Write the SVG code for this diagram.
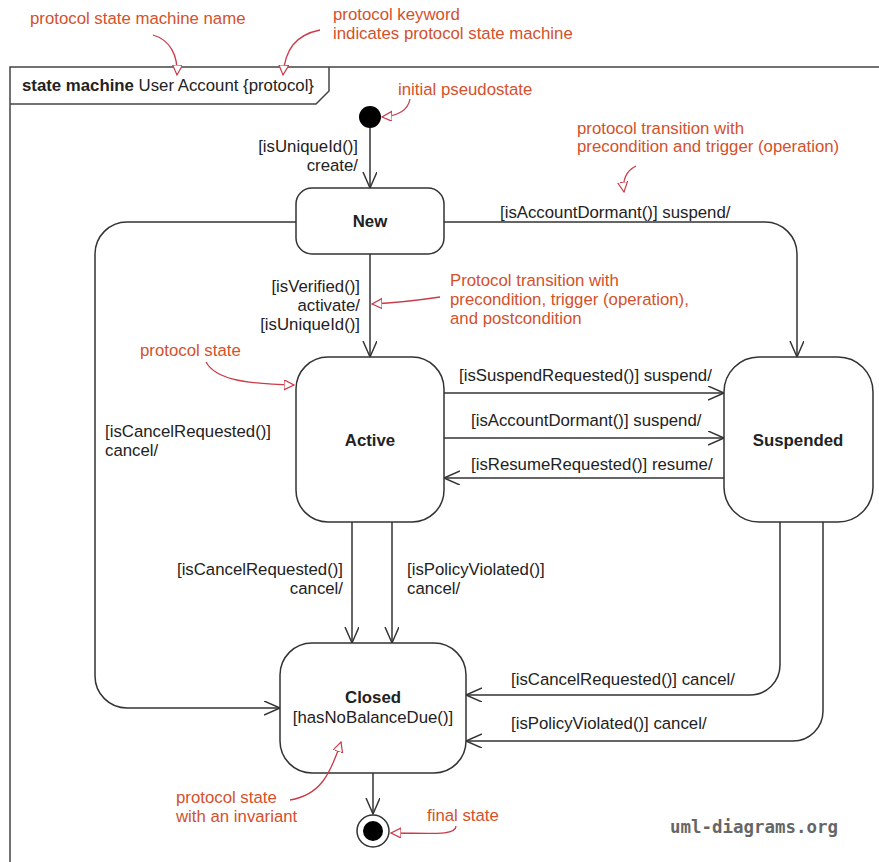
<svg xmlns="http://www.w3.org/2000/svg" width="879" height="862" viewBox="0 0 879 862">
<defs>
<style>
.t{font-family:"Liberation Sans",Arial,sans-serif;font-size:16.8px;fill:#222}
.b{font-weight:bold}
.e{text-anchor:end}
.m{text-anchor:middle}
.a{font-family:"Liberation Sans",Arial,sans-serif;font-size:16.8px;fill:#d4512b}
.st{fill:#fff;stroke:#333;stroke-width:1.5}
.c{fill:none;stroke:#333;stroke-width:1.5}
.r{fill:none;stroke:#cc3a48;stroke-width:1.3}
</style>
<marker id="v" markerUnits="userSpaceOnUse" markerWidth="18" markerHeight="16" refX="16" refY="7" orient="auto">
<path d="M0,0 L16,7 L0,14" fill="none" stroke="#333" stroke-width="1.5"/>
</marker>
<marker id="rt" markerUnits="userSpaceOnUse" markerWidth="12" markerHeight="12" refX="10" refY="5" orient="auto">
<path d="M0,0 L10,5 L0,10 z" fill="#fff" stroke="#cc3a48" stroke-width="1.2"/>
</marker>
</defs>
<rect width="879" height="862" fill="#fff"/>
<g id="frame">
<rect x="10" y="67" width="900" height="900" fill="none" stroke="#444" stroke-width="1.5"/>
<path d="M10,104 H316 L329,91 V67" fill="none" stroke="#444" stroke-width="1.5"/>
<text class="t" x="22" y="91"><tspan class="b">state machine</tspan> User Account {protocol}</text>
</g>
<g id="connectors">
<path class="c" d="M370,128 V188" marker-end="url(#v)"/>
<path class="c" d="M370,254 V357" marker-end="url(#v)"/>
<path class="c" d="M444,222 H765 A32,32 0 0 1 797,254 V357" marker-end="url(#v)"/>
<path class="c" d="M296,222 H127 A32,32 0 0 0 95,254 V676 A32,32 0 0 0 127,708 H280" marker-end="url(#v)"/>
<path class="c" d="M444,393 H724" marker-end="url(#v)"/>
<path class="c" d="M444,438 H724" marker-end="url(#v)"/>
<path class="c" d="M724,478 H444" marker-end="url(#v)"/>
<path class="c" d="M352,522 V643" marker-end="url(#v)"/>
<path class="c" d="M392,522 V643" marker-end="url(#v)"/>
<path class="c" d="M780,522 V665 A30,30 0 0 1 750,695 H466" marker-end="url(#v)"/>
<path class="c" d="M823,522 V711 A30,30 0 0 1 793,741 H466" marker-end="url(#v)"/>
<path class="c" d="M373,773 V814" marker-end="url(#v)"/>
<text class="t e" x="358" y="152">[isUniqueId()]</text>
<text class="t e" x="358" y="171">create/</text>
<text class="t" x="500" y="218">[isAccountDormant()] suspend/</text>
<text class="t e" x="360" y="292">[isVerified()]</text>
<text class="t e" x="360" y="311">activate/</text>
<text class="t e" x="360" y="330">[isUniqueId()]</text>
<text class="t" x="105" y="437">[isCancelRequested()]</text>
<text class="t" x="105" y="456">cancel/</text>
<text class="t" x="459" y="381">[isSuspendRequested()] suspend/</text>
<text class="t" x="471" y="426">[isAccountDormant()] suspend/</text>
<text class="t" x="471" y="470">[isResumeRequested()] resume/</text>
<text class="t e" x="343" y="575">[isCancelRequested()]</text>
<text class="t e" x="343" y="594">cancel/</text>
<text class="t" x="407" y="575">[isPolicyViolated()]</text>
<text class="t" x="407" y="594">cancel/</text>
<text class="t" x="511" y="685">[isCancelRequested()] cancel/</text>
<text class="t" x="511" y="729">[isPolicyViolated()] cancel/</text>
</g>
<g id="initial"><circle cx="370" cy="117" r="11" fill="#000"/></g>
<g id="new">
<rect class="st" x="296" y="188" width="148" height="66" rx="16"/>
<text class="t b m" x="370" y="227">New</text>
</g>
<g id="active">
<rect class="st" x="296" y="357" width="148" height="165" rx="32"/>
<text class="t b m" x="370" y="446">Active</text>
</g>
<g id="suspended">
<rect class="st" x="724" y="357" width="149" height="165" rx="35"/>
<text class="t b m" x="798" y="446">Suspended</text>
</g>
<g id="closed">
<rect class="st" x="280" y="643" width="186" height="130" rx="32"/>
<text class="t b m" x="373" y="703">Closed</text>
<text class="t m" x="373" y="723">[hasNoBalanceDue()]</text>
</g>
<g id="final">
<circle cx="373" cy="831" r="16" fill="#fff" stroke="#333" stroke-width="1.5"/>
<circle cx="373" cy="831" r="10" fill="#000"/>
</g>
<g id="annotations">
<text class="a" x="30" y="24">protocol state machine name</text>
<path class="r" d="M153,35 C170,40 178,55 177,75" marker-end="url(#rt)"/>
<text class="a" x="333" y="20">protocol keyword</text>
<text class="a" x="333" y="39">indicates protocol state machine</text>
<path class="r" d="M320,30 C295,35 285,50 283,75" marker-end="url(#rt)"/>
<text class="a" x="398" y="95">initial pseudostate</text>
<path class="r" d="M410,99 C408,110 398,116 382,117" marker-end="url(#rt)"/>
<text class="a" x="577" y="134">protocol transition with</text>
<text class="a" x="577" y="152">precondition and trigger (operation)</text>
<path class="r" d="M636,166 C628,170 622,178 624,192" marker-end="url(#rt)"/>
<text class="a" x="450" y="286">Protocol transition with</text>
<text class="a" x="450" y="305">precondition, trigger (operation),</text>
<text class="a" x="450" y="324">and postcondition</text>
<path class="r" d="M440,297 C420,300 395,303 372,304" marker-end="url(#rt)"/>
<text class="a" x="140" y="356">protocol state</text>
<path class="r" d="M206,362 C215,378 240,384 294,385" marker-end="url(#rt)"/>
<text class="a" x="176" y="803">protocol state</text>
<text class="a" x="176" y="822">with an invariant</text>
<path class="r" d="M290,800 C320,795 330,775 341,742" marker-end="url(#rt)"/>
<text class="a" x="427" y="821">final state</text>
<path class="r" d="M456,826 C456,836 430,833 391,833" marker-end="url(#rt)"/>
</g>
<text x="670" y="833" font-family="DejaVu Sans Mono, monospace" font-size="17" font-weight="bold" fill="#666" textLength="168" lengthAdjust="spacingAndGlyphs">uml-diagrams.org</text>
</svg>
